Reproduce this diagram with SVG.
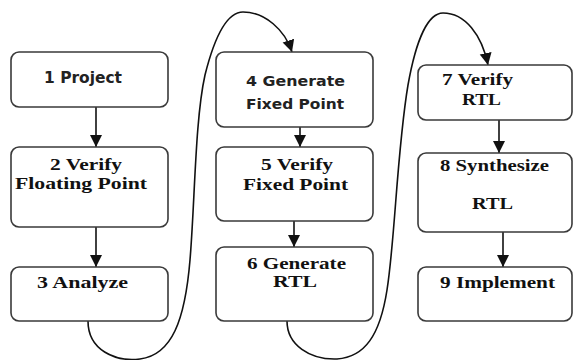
<svg xmlns="http://www.w3.org/2000/svg" width="573" height="360" viewBox="0 0 573 360">
  <defs>
    <marker id="head" markerUnits="userSpaceOnUse" markerWidth="12" markerHeight="13" refX="12" refY="6" orient="auto">
      <path d="M0,0 L12,6 L0,12 Z" fill="#111"/>
    </marker>
    <style>
      .box { fill: #fff; stroke: #3a3a3a; stroke-width: 1.6; }
      .link { fill: none; stroke: #111; stroke-width: 1.6; marker-end: url(#head); }
    </style>
  </defs>
  <rect width="573" height="360" fill="#fff"/>

  <g id="connectors">
    <line class="link" x1="96" y1="107" x2="96" y2="147"/>
    <line class="link" x1="96" y1="227" x2="96" y2="267"/>
    <line class="link" x1="300" y1="127" x2="300" y2="147"/>
    <line class="link" x1="294" y1="221" x2="294" y2="247"/>
    <line class="link" x1="499" y1="120" x2="499" y2="153"/>
    <line class="link" x1="503" y1="232" x2="503" y2="267"/>
    <path class="link" d="M88,321 C88,350 115,362 140,359 C172,355 185,320 190,260 C195,200 195,120 205,75 C215,35 228,12 243,12 C265,12 285,30 292,52"/>
    <path class="link" d="M287,321 C287,345 310,360 337,359 C365,357 380,335 387,290 C395,240 397,150 408,85 C416,40 428,13 443,13 C465,13 482,35 488,65"/>
  </g>

  <!-- serif labels -->
  <g font-family="'Liberation Serif', 'Times New Roman', serif" font-weight="bold" font-size="16" fill="#111" text-anchor="middle">
    <g id="n2">
      <rect class="box" x="11" y="147" width="157" height="80" rx="8"/>
      <text x="86" y="170" textLength="72" lengthAdjust="spacingAndGlyphs">2 Verify</text>
      <text x="81" y="189" textLength="132" lengthAdjust="spacingAndGlyphs">Floating Point</text>
    </g>
    <g id="n3">
      <rect class="box" x="11" y="267" width="157" height="54" rx="8"/>
      <text x="82.5" y="288" textLength="91" lengthAdjust="spacingAndGlyphs">3 Analyze</text>
    </g>
    <g id="n5">
      <rect class="box" x="216" y="147" width="157" height="74" rx="8"/>
      <text x="297" y="170" textLength="72" lengthAdjust="spacingAndGlyphs">5 Verify</text>
      <text x="295.5" y="190" textLength="105" lengthAdjust="spacingAndGlyphs">Fixed Point</text>
    </g>
    <g id="n6">
      <rect class="box" x="216" y="247" width="157" height="74" rx="8"/>
      <text x="296.5" y="269" textLength="99" lengthAdjust="spacingAndGlyphs">6 Generate</text>
      <text x="295" y="287" textLength="44" lengthAdjust="spacingAndGlyphs">RTL</text>
    </g>
    <g id="n7">
      <rect class="box" x="418" y="65" width="154" height="55" rx="8"/>
      <text x="477.5" y="85" textLength="71" lengthAdjust="spacingAndGlyphs">7 Verify</text>
      <text x="481.5" y="105" textLength="39" lengthAdjust="spacingAndGlyphs">RTL</text>
    </g>
    <g id="n8">
      <rect class="box" x="418" y="153" width="154" height="79" rx="8"/>
      <text x="494.5" y="171" textLength="109" lengthAdjust="spacingAndGlyphs">8 Synthesize</text>
      <text x="492.5" y="209" textLength="41" lengthAdjust="spacingAndGlyphs">RTL</text>
    </g>
    <g id="n9">
      <rect class="box" x="418" y="267" width="154" height="54" rx="8"/>
      <text x="497.5" y="288" textLength="115" lengthAdjust="spacingAndGlyphs">9 Implement</text>
    </g>
  </g>

  <!-- sans labels -->
  <g font-family="'DejaVu Sans', Tahoma, sans-serif" font-weight="bold" font-size="14" fill="#222" text-anchor="middle">
    <g id="n1">
      <rect class="box" x="11" y="52" width="157" height="55" rx="8"/>
      <text x="83" y="83" font-size="15" textLength="78" lengthAdjust="spacingAndGlyphs">1 Project</text>
    </g>
    <g id="n4">
      <rect class="box" x="216" y="52" width="157" height="75" rx="8"/>
      <text x="295.5" y="86" textLength="99" lengthAdjust="spacingAndGlyphs">4 Generate</text>
      <text x="295" y="109" textLength="98" lengthAdjust="spacingAndGlyphs">Fixed Point</text>
    </g>
  </g>
</svg>
